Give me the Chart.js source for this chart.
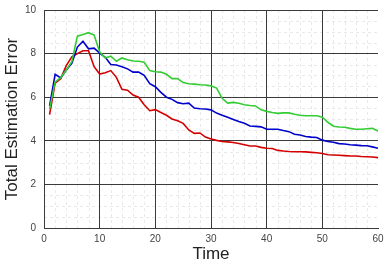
<!DOCTYPE html>
<html>
<head>
<meta charset="utf-8">
<script src="https://cdn.jsdelivr.net/npm/chart.js@4/dist/chart.umd.min.js"></script>
<style>
  html, body { margin: 0; padding: 0; background: #fff; }
  #wrap { width: 391px; height: 270px; position: relative; }
</style>
</head>
<body>
<div id="wrap"><canvas id="c" width="391" height="270"></canvas></div>
<script>
const times = Array.from({length: 60}, (_, i) => i + 1);
const redSeries = [5.2, 6.65, 6.85, 7.45, 7.85, 8.0, 8.13, 8.13, 7.4, 7.06,
  7.12, 7.22, 6.91, 6.36, 6.32, 6.1, 6.0, 5.65, 5.38, 5.43,
  5.3, 5.17, 5.0, 4.92, 4.8, 4.5, 4.34, 4.36, 4.17, 4.08,
  4.02, 3.97, 3.95, 3.92, 3.88, 3.82, 3.76, 3.76, 3.7, 3.66,
  3.65, 3.56, 3.53, 3.51, 3.5, 3.5, 3.49, 3.47, 3.45, 3.42,
  3.36, 3.35, 3.34, 3.32, 3.3, 3.3, 3.28, 3.27, 3.26, 3.23];
const blueSeries = [5.6, 7.05, 6.88, 7.25, 7.55, 8.3, 8.57, 8.22, 8.25, 8.02,
  7.83, 7.5, 7.48, 7.4, 7.3, 7.15, 7.15, 7.0, 6.62, 6.48,
  6.22, 6.0, 5.9, 5.75, 5.7, 5.73, 5.5, 5.47, 5.46, 5.42,
  5.27, 5.17, 5.08, 4.98, 4.88, 4.8, 4.68, 4.66, 4.64, 4.53,
  4.53, 4.53, 4.47, 4.42, 4.3, 4.27, 4.2, 4.17, 4.15, 4.03,
  3.97, 3.93, 3.87, 3.85, 3.82, 3.8, 3.78, 3.77, 3.72, 3.66];
const greenSeries = [5.45, 6.7, 6.9, 7.25, 7.63, 8.8, 8.88, 8.96, 8.85, 8.08,
  7.8, 7.88, 7.65, 7.8, 7.72, 7.66, 7.65, 7.6, 7.22, 7.17,
  7.15, 7.05, 6.85, 6.85, 6.67, 6.62, 6.6, 6.57, 6.56, 6.52,
  6.42, 5.95, 5.73, 5.76, 5.72, 5.65, 5.62, 5.6, 5.42, 5.35,
  5.3, 5.26, 5.28, 5.28, 5.22, 5.17, 5.15, 5.15, 5.15, 5.08,
  4.85, 4.67, 4.63, 4.62, 4.57, 4.53, 4.53, 4.55, 4.57, 4.45];
const xTickLabels = [0, 10, 20, 30, 40, 50, 60];
const yTickLabels = [0, 2, 4, 6, 8, 10];
const xMinorStep = 2;
const yMinorStep = 0.5;
const xTitle = 'Time';
const yTitle = 'Total Estimation Error';

const pts = arr => arr.map((v, i) => ({x: times[i], y: v}));
const FONT = "'Liberation Sans', Arial, sans-serif";

const bgAndMinorGrid = {
  id: 'bgAndMinorGrid',
  beforeDraw(chart) {
    const g = chart.ctx, a = chart.chartArea;
    const xs = chart.scales.x, ys = chart.scales.y;
    g.save();
    g.fillStyle = '#fff';
    g.fillRect(0, 0, chart.width, chart.height);
    g.strokeStyle = '#e9e9e9';
    g.lineWidth = 1;
    g.setLineDash([3, 3]);
    for (let i = 0; xs.min + i * xMinorStep <= xs.max + 1e-9; i++) {
      const v = xs.min + i * xMinorStep;
      if (xTickLabels.includes(v)) continue;
      const px = Math.round(xs.getPixelForValue(v)) + 0.5;
      g.beginPath(); g.moveTo(px, a.top); g.lineTo(px, a.bottom); g.stroke();
    }
    for (let i = 0; ys.min + i * yMinorStep <= ys.max + 1e-9; i++) {
      const v = ys.min + i * yMinorStep;
      if (yTickLabels.includes(v)) continue;
      const py = Math.round(ys.getPixelForValue(v)) + 0.5;
      g.beginPath(); g.moveTo(a.left, py); g.lineTo(a.right, py); g.stroke();
    }
    g.restore();
  }
};

new Chart(document.getElementById('c'), {
  type: 'line',
  data: {
    datasets: [
      {data: pts(greenSeries), borderColor: '#33cc33', borderWidth: 1.6, pointRadius: 0, tension: 0, fill: false},
      {data: pts(blueSeries), borderColor: '#0000cc', borderWidth: 1.6, pointRadius: 0, tension: 0, fill: false},
      {data: pts(redSeries), borderColor: '#d40000', borderWidth: 1.6, pointRadius: 0, tension: 0, fill: false}
    ]
  },
  options: {
    responsive: false,
    animation: false,
    events: [],
    layout: {padding: {left: 2, right: 13, top: 10, bottom: 5}},
    plugins: {legend: {display: false}, tooltip: {enabled: false}},
    scales: {
      x: {
        type: 'linear', min: 0, max: 60,
        afterFit: s => { s.height = 37; s.paddingLeft = 0; s.paddingRight = 0; },
        afterBuildTicks: s => { s.ticks = xTickLabels.map(v => ({value: v})); },
        ticks: {
          autoSkip: false, maxRotation: 0,
          color: '#444', font: {family: FONT, size: 10}, padding: 5
        },
        grid: {
          drawTicks: false,
          color: ctx => (ctx.tick && ctx.tick.value === 60) ? 'rgba(0,0,0,0)' : '#3a3a3a',
          lineWidth: 1
        },
        border: {display: true, color: '#3a3a3a', width: 1},
        title: {display: true, text: xTitle, color: '#222', font: {family: FONT, size: 17}, padding: {top: 0, bottom: 0}}
      },
      y: {
        type: 'linear', min: 0, max: 10,
        afterFit: s => { s.width = 44 - 2; s.paddingTop = 0; s.paddingBottom = 0; },
        afterBuildTicks: s => { s.ticks = yTickLabels.map(v => ({value: v})); },
        ticks: {
          autoSkip: false,
          color: '#444', font: {family: FONT, size: 10}, padding: 8
        },
        grid: {drawTicks: false, color: '#3a3a3a', lineWidth: 1},
        border: {display: true, color: '#3a3a3a', width: 1},
        title: {display: true, text: yTitle, color: '#222', font: {family: FONT, size: 17}, padding: {top: 0, bottom: 0}}
      }
    }
  },
  plugins: [bgAndMinorGrid]
});
</script>
</body>
</html>
